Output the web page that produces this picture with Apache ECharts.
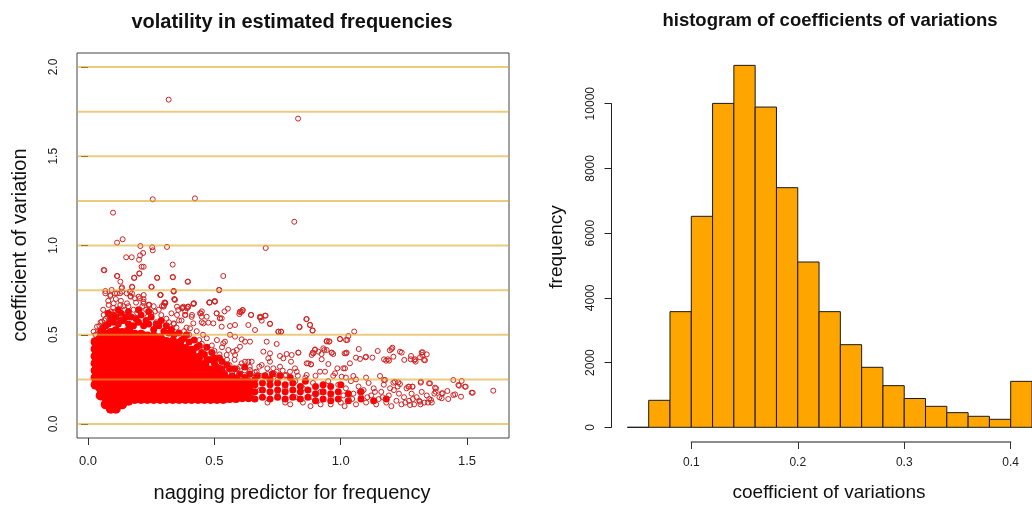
<!DOCTYPE html>
<html><head><meta charset="utf-8">
<script src="https://cdn.jsdelivr.net/npm/echarts@6/dist/echarts.min.js"></script>
<style>html,body{margin:0;padding:0;background:#fff}#c{width:1032px;height:507px}</style>
</head><body><div id="c"></div>
<script>
// ---------------- left panel data ----------------
const scatterXRange = [-0.0435, 1.6653];
const gridLevels = [0, 0.25, 0.5, 0.75, 1, 1.25, 1.5, 1.75, 2];
// dense core of the cloud: [x, y1, y2, ...] (solid red mass)
const coreColumns = [
 [0.03, 0.22,0.26,0.30,0.34,0.38,0.42,0.46],
 [0.05, 0.16,0.20,0.24,0.28,0.32,0.36,0.40,0.44,0.48],
 [0.07, 0.11,0.15,0.19,0.23,0.27,0.31,0.35,0.39,0.43,0.47,0.50],
 [0.09, 0.085,0.12,0.16,0.20,0.24,0.28,0.32,0.36,0.40,0.44,0.48,0.51],
 [0.11, 0.085,0.12,0.16,0.20,0.24,0.28,0.32,0.36,0.40,0.44,0.48,0.52],
 [0.135, 0.11,0.15,0.19,0.23,0.27,0.31,0.35,0.39,0.43,0.47,0.51],
 [0.16, 0.13,0.17,0.21,0.25,0.29,0.33,0.37,0.41,0.45,0.49,0.52],
 [0.185, 0.14,0.18,0.22,0.26,0.30,0.34,0.38,0.42,0.46,0.50],
 [0.21, 0.14,0.18,0.22,0.26,0.30,0.34,0.38,0.42,0.46,0.50],
 [0.235, 0.14,0.18,0.22,0.26,0.30,0.34,0.38,0.42,0.46,0.49],
 [0.26, 0.14,0.18,0.22,0.26,0.30,0.34,0.38,0.42,0.46,0.49],
 [0.285, 0.14,0.18,0.22,0.26,0.30,0.34,0.38,0.42,0.46,0.48],
 [0.31, 0.14,0.18,0.22,0.26,0.30,0.34,0.38,0.42,0.46],
 [0.335, 0.14,0.18,0.22,0.26,0.30,0.34,0.38,0.42,0.46],
 [0.36, 0.14,0.18,0.22,0.26,0.30,0.34,0.38,0.42,0.45],
 [0.385, 0.14,0.18,0.22,0.26,0.30,0.34,0.38,0.42],
 [0.41, 0.14,0.18,0.22,0.26,0.30,0.34,0.38,0.41],
 [0.435, 0.14,0.18,0.22,0.26,0.30,0.34,0.37],
 [0.46, 0.14,0.18,0.22,0.26,0.30,0.33],
 [0.485, 0.14,0.18,0.22,0.26,0.30],
 [0.51, 0.14,0.18,0.22,0.26,0.29],
 [0.535, 0.14,0.18,0.22,0.26],
 [0.56, 0.145,0.18,0.22,0.25],
 [0.585, 0.145,0.18,0.22,0.25],
 [0.61, 0.15,0.19,0.23],
 [0.635, 0.15,0.19,0.23]
];
// semi-dense band and fringe: [x, y1, y2, ...]
const bandColumns = [
 [0.66, 0.14,0.18,0.22,0.25],
 [0.69, 0.15,0.19,0.23],
 [0.72, 0.14,0.18,0.22,0.25],
 [0.75, 0.15,0.19,0.23],
 [0.78, 0.14,0.18,0.22],
 [0.81, 0.15,0.19,0.23],
 [0.84, 0.14,0.18,0.21],
 [0.87, 0.15,0.19],
 [0.90, 0.13,0.17,0.21],
 [0.93, 0.14,0.18],
 [0.96, 0.13,0.17,0.21],
 [0.99, 0.14,0.18],
 [1.03, 0.13,0.17],
 [1.08, 0.14,0.18],
 [1.13, 0.13],
 [1.18, 0.14]
];
const fringePoints = [
 [0.06,0.54],[0.08,0.56],[0.10,0.57],[0.12,0.56],[0.14,0.58],[0.16,0.56],[0.18,0.55],[0.20,0.57],
 [0.22,0.55],[0.24,0.56],[0.26,0.53],[0.28,0.55],[0.30,0.52],[0.32,0.51],[0.34,0.50],[0.10,0.61],
 [0.13,0.62],[0.17,0.60],[0.21,0.61],[0.25,0.60],[0.38,0.48],[0.40,0.46],[0.43,0.43],[0.46,0.39],
 [0.48,0.36],[0.50,0.34],[0.53,0.31],
 [0.05,0.52],[0.07,0.55],[0.09,0.59],[0.11,0.60],[0.13,0.58],[0.15,0.60],[0.19,0.59],[0.23,0.58],
 [0.27,0.56],[0.31,0.55],[0.36,0.51],[0.12,0.64],[0.16,0.63],[0.20,0.64],[0.08,0.62],[0.24,0.63],
 [0.29,0.58],[0.33,0.53],[0.42,0.47],[0.47,0.43],[0.52,0.37],[0.56,0.31],[0.60,0.28],
 [0.37,0.47],[0.39,0.50],[0.44,0.44],[0.45,0.40],[0.47,0.36],[0.49,0.40],[0.50,0.37],[0.51,0.32],
 [0.53,0.35],[0.54,0.28],[0.55,0.33],[0.57,0.27],[0.58,0.31],[0.62,0.26],[0.64,0.28],[0.67,0.27],
 [0.70,0.27],[0.73,0.28],[0.62,0.32],[0.76,0.27],[0.80,0.26],[0.86,0.24],[0.93,0.22],[1.00,0.22]
];
// individually visible circles
const sparsePoints = [
 [0.319,1.817],[0.831,1.711],[0.256,1.259],[0.423,1.264],[0.099,1.184],[0.816,1.133],[0.115,1.016],[0.137,1.035],
 [0.703,0.986],[0.3125,0.992],[0.207,0.997],[0.254,0.99],[0.256,0.973],[0.0646,0.861],[0.116,0.829],[0.151,0.934],
 [0.173,0.934],[0.206,0.945],[0.218,0.958],[0.202,0.92],[0.212,0.881],[0.22,0.881],[0.182,0.818],[0.203,0.842],
 [0.335,0.893],[0.335,0.824],[0.274,0.818],[0.394,0.797],[0.535,0.829],[0.252,0.767],[0.518,0.751],[0.339,0.745],
 [0.2875,0.723],[0.417,0.672],[0.394,0.657],[0.375,0.652],[0.48,0.681],[0.502,0.687],[0.341,0.70],[0.305,0.68],
 [0.30,0.663],[0.241,0.669],[0.601,0.627],[0.612,0.637],[0.447,0.62],[0.509,0.62],[0.70,0.607],[0.684,0.598],
 [0.645,0.611],[0.72,0.562],[0.522,0.592],[0.8636,0.587],[0.878,0.555],[0.888,0.525],[0.837,0.542],[0.753,0.517],
 [0.764,0.517],[1.053,0.518],[1.03,0.493],[0.997,0.4755],[1.026,0.4706],[0.944,0.462],[0.955,0.463],[1.071,0.42],
 [1.146,0.409],[1.201,0.42],[1.194,0.413],[1.234,0.405],[1.241,0.4],[1.3225,0.387],[1.32,0.4016],[1.34,0.39],
 [1.333,0.357],[1.2765,0.3625],[1.251,0.359],[1.179,0.3547],[1.186,0.3625],[1.208,0.377],[1.125,0.3716],[1.098,0.3735],
 [1.06,0.3716],[1.076,0.3645],[1.036,0.34],[1.01,0.312],[1.023,0.4],[1.015,0.396],[0.935,0.4145],[0.924,0.392],
 [0.889,0.4],[0.898,0.418],[0.832,0.4],[0.871,0.34],[0.882,0.334],[0.9506,0.336],[0.964,0.3996],[0.970,0.392],
 [1.296,0.3495],[1.3133,0.3735],[1.2935,0.3625],[1.3291,0.359],[1.1,0.377],[1.171,0.3623],[1.191,0.355],[1.204,0.4275],
 [1.2777,0.381],[1.291,0.357],[1.324,0.4016],
 [1.445,0.2465],[1.478,0.241],[1.465,0.2185],[1.491,0.209],[1.518,0.1755],[1.603,0.1866],[1.445,0.1625],[1.4755,0.153],
 [1.425,0.14],[1.399,0.172],[1.399,0.144],[1.375,0.181],[1.357,0.1345],[1.313,0.125],[1.274,0.1065],[1.4215,0.1849],
 [1.403,0.172],[1.452,0.166],[1.3726,0.2036],[1.3529,0.2279],[1.317,0.237],[1.2828,0.2092],[1.27,0.2092],[1.155,0.2689],
 [1.1709,0.2465],[1.0496,0.2689],[1.214,0.237],[1.2276,0.2335],[1.175,0.2465],[1.208,0.2315],[1.234,0.224],[1.267,0.209],
 [1.284,0.209],[1.316,0.2315],[1.349,0.228],[1.377,0.2],[1.4676,0.2146],[1.494,0.209],[1.5217,0.175],
 [0.4193,0.676],[0.3969,0.657],[0.3771,0.657],[0.3837,0.611],[0.48,0.68],[0.5024,0.6853],[0.443,0.62],[0.4496,0.6013],
 [0.509,0.62],[0.5222,0.5919],[0.6013,0.6293],[0.6118,0.6387],[0.6448,0.611],[0.6804,0.6013],[0.7028,0.607],[0.687,0.5789],
 [0.7199,0.5602],[0.865,0.5882],[0.8782,0.5546],[0.8887,0.5228],[0.836,0.5452],[0.753,0.5172],[0.7635,0.5172],[0.6606,0.5266],
 [0.6342,0.5546],[0.5815,0.5546],[0.5617,0.549],[0.5288,0.5452],[0.4958,0.5639],[0.476,0.5677],[0.4562,0.5639],[0.4167,0.5639],
 [0.4035,0.5359],
 [0.0686,0.732],[0.0883,0.7227],[0.1147,0.732],[0.1345,0.7414],[0.174,0.732],[0.2004,0.7134],[0.2202,0.676],[0.24,0.6667],
 [0.2861,0.7227],[0.3389,0.7414],[0.306,0.676],[0.2992,0.6573],[0.352,0.6573],[0.3718,0.648],[0.3916,0.648],[0.418,0.676],
 [0.4114,0.611],[0.385,0.611],[0.352,0.611],[0.3389,0.564],[0.1279,0.6667],[0.1543,0.676],[0.1015,0.676],[0.0817,0.6667],
 [0.062,0.611],[0.0554,0.5733],[0.0356,0.5453],[0.0224,0.5173],
 [0.062,0.8628],[0.1147,0.8291],[0.1279,0.7974],[0.1833,0.8198],[0.2031,0.8441],[0.273,0.8198],[0.3362,0.8217],[0.3956,0.7974],
 [0.2506,0.7693],[0.3389,0.7451],[0.5195,0.7507],[0.2861,0.7226],[0.3428,0.6983],[0.3745,0.6516],[0.3956,0.657],[0.4813,0.6816],
 [0.5011,0.6891],[0.3019,0.6797],[0.2927,0.661],[0.174,0.7693],[0.1345,0.7656],[0.1675,0.717],[0.2202,0.7226],[0.0883,0.717],
 [0.0686,0.745],[0.3844,0.6311],[0.4503,0.6311],[0.5399,0.6311],[0.5531,0.6461],
 [0.0936,0.751],[0.1068,0.732],[0.1266,0.732],[0.1332,0.76],[0.153,0.732],[0.166,0.741],[0.175,0.766],[0.169,0.713],
 [0.186,0.704],[0.2057,0.704],[0.219,0.685],[0.2426,0.667],[0.3046,0.68],[0.344,0.695],[0.357,0.639],[0.4695,0.601],
 [0.529,0.592],[0.608,0.629],[0.5985,0.616],[0.68,0.596],
 [0.7463,0.4482],[0.9441,0.465],[0.9533,0.4613],[0.9968,0.4762],[1.0206,0.4706],[1.0206,0.3959],[0.9639,0.3996],[0.9441,0.4146],
 [0.9309,0.4239],[0.9111,0.4052],[0.8979,0.4146],[0.8913,0.3959],[0.8848,0.3866],[0.865,0.3399],[0.8821,0.3343],[0.9243,0.3623],
 [0.832,0.3996],[0.8056,0.3866],[0.7858,0.3922],[0.7726,0.3679],[0.7595,0.381],[0.803,0.3492],[0.8188,0.3119],[0.7595,0.3212],
 [0.77,0.2988],[0.7199,0.3492],[0.7133,0.3679],[0.687,0.3305],[0.6777,0.3212],[0.6474,0.3492],[0.6342,0.3492],[0.621,0.3492],
 [0.6079,0.3399],[0.6013,0.3212],[0.5815,0.3866],[0.5881,0.4146],[0.6013,0.4332],[0.5749,0.4052],[0.5551,0.4146],[0.5485,0.3866],
 [0.5353,0.4519],[0.5419,0.4613],[0.5617,0.5],[0.5815,0.4893],[0.6079,0.4743],[0.621,0.4613],[0.6408,0.4613],[0.7067,0.4613],
 [0.7199,0.3959],[0.6936,0.4052],[0.9771,0.2839],[0.9863,0.3119],[1.0035,0.2652],[1.0166,0.3119],[0.9375,0.2932],[0.9177,0.2932],
 [0.865,0.2745],[0.8254,0.2932],[0.799,0.2932],[0.7832,0.2745],[0.7463,0.2932],[0.7331,0.3119],[0.7094,0.3119],[0.6672,0.2932],
 [0.6408,0.3025],
 [0.04,0.52],[0.07,0.59],[0.09,0.63],[0.12,0.57],[0.145,0.64],[0.175,0.60],[0.205,0.64],[0.235,0.60],[0.265,0.63],[0.05,0.57],
 [0.10,0.65],[0.13,0.69],[0.16,0.66],[0.19,0.68],[0.22,0.70],[0.11,0.70],[0.08,0.69],[0.06,0.64],[0.31,0.59],[0.33,0.62],
 [0.34,0.56],[0.37,0.58],[0.39,0.54],[0.41,0.60],[0.43,0.52],[0.45,0.57],[0.29,0.61],[0.27,0.57],
 [0.45,0.45],[0.46,0.42],[0.47,0.48],[0.48,0.39],[0.49,0.44],[0.50,0.41],[0.51,0.47],[0.52,0.34],[0.52,0.39],[0.53,0.43],
 [0.54,0.31],[0.55,0.36],[0.56,0.33],[0.57,0.29],[0.58,0.36],[0.59,0.31],[0.60,0.28],[0.62,0.30],[0.63,0.27],[0.65,0.26],
 [0.64,0.32],[0.66,0.29],[0.68,0.27],[0.44,0.47],[0.455,0.50],
 [0.65,0.15],[0.68,0.19],[0.71,0.12],[0.71,0.28],[0.75,0.16],[0.75,0.25],[0.78,0.20],[0.78,0.12],[0.82,0.15],[0.82,0.24],
 [0.85,0.20],[0.85,0.12],[0.86,0.26],[0.89,0.15],[0.89,0.23],[0.92,0.18],[0.92,0.11],[0.95,0.24],[0.96,0.15],[0.99,0.22],
 [0.96,0.11],[0.88,0.10],[0.80,0.11],[0.74,0.28],[0.78,0.27],[0.83,0.27],[0.90,0.27],[0.97,0.27],
 [1.00,0.12],[1.01,0.16],[1.02,0.20],[1.03,0.13],[1.04,0.24],[1.05,0.17],[1.06,0.11],[1.07,0.21],[1.08,0.15],[1.09,0.19],
 [1.10,0.12],[1.11,0.23],[1.12,0.16],[1.13,0.20],[1.14,0.11],[1.15,0.14],[1.16,0.18],[1.17,0.22],[1.18,0.12],[1.19,0.16],
 [1.20,0.10],[1.21,0.19],[1.22,0.13],[1.23,0.17],[1.24,0.11],[1.25,0.15],[1.26,0.20],[1.27,0.13],[1.28,0.17],[1.29,0.11],
 [1.30,0.15],[1.31,0.13],[1.32,0.18],[1.33,0.12],[1.34,0.16],[1.35,0.14],[1.36,0.12],[1.02,0.26],[1.06,0.25],[1.10,0.26],
 [1.015,0.10],[1.045,0.14],[1.075,0.18],[1.105,0.15],[1.135,0.18],[1.165,0.15],[1.195,0.20],[1.225,0.21],[1.255,0.12],[1.285,0.14],
 [1.315,0.11],[1.345,0.12],[1.37,0.17],[1.39,0.15],
 [0.03,0.50],[0.045,0.55],[0.065,0.58],[0.085,0.60],[0.105,0.63],[0.125,0.60],[0.14,0.66],[0.155,0.62],[0.18,0.64],[0.195,0.62],
 [0.215,0.66],[0.23,0.64],[0.25,0.62],[0.26,0.66],[0.28,0.64],[0.32,0.57],[0.35,0.54],[0.36,0.58],[0.38,0.52],[0.40,0.50]
];

// ---------------- right panel data ----------------
const histXRange = [0.04, 0.42];
const binEdges = [0.04,0.06,0.08,0.10,0.12,0.14,0.16,0.18,0.20,0.22,0.24,0.26,0.28,0.30,0.32,0.34,0.36,0.38,0.40,0.42];
const binCounts = [0,834,3574,6520,10010,11185,9897,7405,5108,3574,2554,1854,1287,890,648,453,340,247,1420];

// ---------------- build ----------------
const FONT = '"Liberation Sans", Arial, sans-serif';
const colsToPts = cols => cols.flatMap(c => c.slice(1).map(y => [c[0], y]));
const corePts = colsToPts(coreColumns);
const bandPts = colsToPts(bandColumns).concat(fringePoints);
const histData = binCounts.map((c, i) => [binEdges[i], binEdges[i + 1], c]);

const chart = echarts.init(document.getElementById('c'));
const labelStyle = (size) => ({color: '#222', fontSize: size, fontFamily: FONT});

chart.setOption({
  animation: false,
  backgroundColor: '#fff',
  grid: [
    {left: 77, top: 53, width: 432, height: 385, show: true, borderColor: '#444', borderWidth: 1},
    {left: 77, top: 67, width: 432, height: 357},
    {left: 88, top: 437, width: 379, height: 1},
    {left: 627.4, top: 39, width: 404.7, height: 388.3},
    {left: 611.5, top: 103.7, width: 1, height: 323.6},
    {left: 691.3, top: 441, width: 319.4, height: 1}
  ],
  xAxis: [
    {gridIndex: 0, type: 'value', show: false, min: 0, max: 1},
    {gridIndex: 1, type: 'value', show: false, min: scatterXRange[0], max: scatterXRange[1]},
    {gridIndex: 2, type: 'value', min: 0, max: 1.5, interval: 0.5,
      axisLine: {show: false}, splitLine: {show: false},
      axisTick: {show: true, length: 7, lineStyle: {color: '#333'}},
      axisLabel: Object.assign({margin: 17, formatter: v => v.toFixed(1)}, labelStyle(13))},
    {gridIndex: 3, type: 'value', show: false, min: histXRange[0], max: histXRange[1]},
    {gridIndex: 4, type: 'value', show: false, min: 0, max: 1},
    {gridIndex: 5, type: 'value', min: 0.1, max: 0.4, interval: 0.1,
      axisLine: {show: true, lineStyle: {color: '#666', width: 1.5}}, splitLine: {show: false},
      axisTick: {show: true, length: 7, lineStyle: {color: '#333'}},
      axisLabel: Object.assign({margin: 15, formatter: v => v.toFixed(1)}, labelStyle(12))}
  ],
  yAxis: [
    {gridIndex: 0, type: 'value', show: false, min: 0, max: 1},
    {gridIndex: 1, type: 'value', min: 0, max: 2, interval: 0.5,
      axisLine: {show: false}, splitLine: {show: false},
      axisTick: {show: true, length: 7, lineStyle: {color: '#333'}},
      axisLabel: Object.assign({margin: 17, rotate: 90, formatter: v => v.toFixed(1)}, labelStyle(12))},
    {gridIndex: 2, type: 'value', show: false, min: 0, max: 1},
    {gridIndex: 3, type: 'value', show: false, min: 0, max: 12000},
    {gridIndex: 4, type: 'value', min: 0, max: 10000, interval: 2000,
      axisLine: {show: true, lineStyle: {color: '#222'}}, splitLine: {show: false},
      axisTick: {show: true, length: 7, lineStyle: {color: '#222'}},
      axisLabel: Object.assign({margin: 15, rotate: 90, formatter: v => String(v)}, labelStyle(12))},
    {gridIndex: 5, type: 'value', show: false, min: 0, max: 1}
  ],
  series: [
    {type: 'scatter', xAxisIndex: 1, yAxisIndex: 1, data: corePts, symbol: 'circle', symbolSize: 10,
      itemStyle: {color: '#ff0000', opacity: 1}, silent: true, z: 2},
    {type: 'scatter', xAxisIndex: 1, yAxisIndex: 1, data: bandPts, symbol: 'circle', symbolSize: 7,
      itemStyle: {color: '#ff0000', opacity: 1}, silent: true, z: 2},
    {type: 'scatter', xAxisIndex: 1, yAxisIndex: 1, data: sparsePoints, symbol: 'circle', symbolSize: 5,
      itemStyle: {color: 'rgba(0,0,0,0)', borderColor: '#d42222', borderWidth: 1, opacity: 1}, silent: true, z: 3},
    {type: 'custom', xAxisIndex: 1, yAxisIndex: 1, data: gridLevels.map(v => [v]), silent: true, z: 4,
      renderItem: (params, api) => {
        const a = api.coord([scatterXRange[0], api.value(0)]);
        const b = api.coord([scatterXRange[1], api.value(0)]);
        return {type: 'line', shape: {x1: a[0], y1: a[1], x2: b[0], y2: b[1]},
          style: {stroke: 'rgba(222,170,40,0.6)', lineWidth: 2}};
      }},
    {type: 'custom', xAxisIndex: 3, yAxisIndex: 3, data: histData, silent: true, clip: false,
      encode: {x: [0, 1], y: 2},
      renderItem: (params, api) => {
        const p0 = api.coord([api.value(0), api.value(2)]);
        const p1 = api.coord([api.value(1), 0]);
        return {type: 'rect', shape: {x: p0[0], y: p0[1], width: p1[0] - p0[0], height: p1[1] - p0[1]},
          style: {fill: '#FFA500', stroke: '#1a1a1a', lineWidth: 1}};
      }}
  ],
  graphic: [
    {type: 'text', x: 292, y: 22, style: {text: 'volatility in estimated frequencies', font: 'bold 20px ' + FONT,
      fill: '#111', align: 'center', verticalAlign: 'middle'}},
    {type: 'text', x: 292, y: 493, style: {text: 'nagging predictor for frequency', font: '20px ' + FONT,
      fill: '#111', align: 'center', verticalAlign: 'middle'}},
    {type: 'text', x: 20, y: 245, rotation: Math.PI / 2, style: {text: 'coefficient of variation', font: '20px ' + FONT,
      fill: '#111', align: 'center', verticalAlign: 'middle'}},
    {type: 'text', x: 830, y: 21, style: {text: 'histogram of coefficients of variations', font: 'bold 18.5px ' + FONT,
      fill: '#111', align: 'center', verticalAlign: 'middle'}},
    {type: 'text', x: 829, y: 493, style: {text: 'coefficient of variations', font: '19px ' + FONT,
      fill: '#111', align: 'center', verticalAlign: 'middle'}},
    {type: 'text', x: 557, y: 247, rotation: Math.PI / 2, style: {text: 'frequency', font: '19px ' + FONT,
      fill: '#111', align: 'center', verticalAlign: 'middle'}}
  ]
});
</script></body></html>
